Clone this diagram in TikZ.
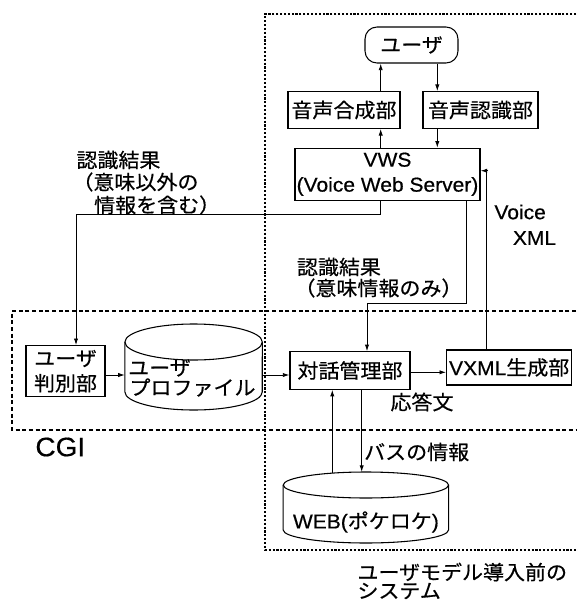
\documentclass[tikz,border=0pt]{standalone}
\usepackage{fontspec}
\setmainfont{Liberation Sans}[FakeStretch=1.05,FakeBold=0.5]
\newfontfamily\jp{Noto Sans CJK JP}[FakeStretch=1.05,FakeBold=0.5]
\newfontfamily\lat{Liberation Sans}[FakeStretch=1.05,FakeBold=0.5]
\usetikzlibrary{arrows.meta}
\begin{document}
\begin{tikzpicture}[x=0.75pt,y=-0.75pt,line width=0.7pt,
  arr/.style={-{Latex[length=5pt,width=3.2pt]}},
  box/.style={draw,rectangle,inner sep=0pt,align=center,line width=0.8pt,
    font=\fontsize{15}{18.75}\selectfont\jp},
  lbl/.style={inner sep=0pt,anchor=west,font=\fontsize{15}{17}\selectfont\jp},
  latlbl/.style={inner sep=0pt,anchor=west,font=\fontsize{15}{17}\selectfont\lat},
  sysline/.style={dash pattern=on 1.6pt off 1.3pt,line width=1.1pt},
  cgiline/.style={dash pattern=on 3pt off 2pt,line width=0.8pt}]
\useasboundingbox (0,0) rectangle (576,600);

% dashed frames
\draw[sysline] (576,14) -- (265,14) -- (265,550) -- (576,550);
\draw[cgiline] (576,311) -- (12,311) -- (12,430) -- (576,430);

% boxes
\node[box,rounded corners=9pt,minimum width=69.75pt,minimum height=27pt] (user) at (411.5,45) {ユーザ};
\node[box,minimum width=84pt,minimum height=27.5pt] (synth) at (344,110) {音声合成部};
\node[box,minimum width=86.25pt,minimum height=27.5pt] (recog) at (480.5,110) {音声認識部};
\node[box,minimum width=138.75pt,minimum height=38.8pt] (vws) at (387.5,174.2) {\lat VWS\\\lat (Voice Web Server)};
\node[box,minimum width=59.25pt,minimum height=38.25pt] (judge) at (65.5,371.2) {ユーザ\\判別部};
\node[box,minimum width=90pt,minimum height=28pt] (dlg) at (350,370.5) {対話管理部};
\node[box,minimum width=93.75pt,minimum height=26.25pt] (vxml) at (509.2,367.5) {{\lat VXML}生成部};

% cylinders
\draw[line width=0.8pt] (193.6,342) ellipse[x radius=51.5pt,y radius=13.5pt];
\draw[line width=0.8pt] (124.9,342) -- (124.9,392) arc[start angle=180,end angle=360,x radius=51.5pt,y radius=13.5pt] -- (262.3,342);
\node[lbl] (prof1) at (127.7,368) {ユーザ};
\node[lbl] (prof2) at (129,387.5) {プロファイル};

\draw[line width=0.8pt] (365.9,485) ellipse[x radius=62pt,y radius=9.75pt];
\draw[line width=0.8pt] (283.2,485) -- (283.2,530) arc[start angle=180,end angle=360,x radius=62pt,y radius=9.75pt] -- (448.6,485);
\node[inner sep=0pt,font=\fontsize{15}{17}\selectfont\lat] (web) at (365.9,522) {WEB(\jp ポケロケ\lat )};

% coordinates
\coordinate (xa) at (380.7,0);
\coordinate (xb) at (437.3,0);
\coordinate (c1) at (76,214);
\coordinate (c2) at (466.7,303);
\coordinate (c3) at (367,303);
\coordinate (c4) at (486.7,170.7);
\coordinate (c5) at (0,372.3);
\coordinate (profW) at (124.9,375);
\coordinate (profE) at (262.3,375);
\coordinate (wa) at (332.3,473);
\coordinate (wb) at (361.7,472);

% connectors
\draw[arr] (synth.north -| xa) -- (user.south -| xa);
\draw[arr] (vws.north -| xa) -- (synth.south -| xa);
\draw[arr] (user.south -| xb) -- (recog.north -| xb);
\draw[arr] (recog.south -| xb) -- (vws.north -| xb);
\draw[arr] (vws.south -| xa) |- (c1) -- (c1 |- judge.north);
\draw[arr] (vws.south -| c2) -- (c2) -- (c3) -- (c3 |- dlg.north);
\draw[arr] (vxml.north -| c4) |- (vws.east |- c4);
\draw[arr] (judge.east |- profW) -- (profW);
\draw[arr] (profE) -- (profE -| dlg.west);
\draw[arr] (dlg.east |- c5) -- (vxml.west |- c5);
\draw[arr] (wa) -- (wa |- dlg.south);
\draw[arr] (wb |- dlg.south) -- (wb);

% labels
\node[lbl] (l1) at (76,160) {認識結果};
\node[lbl] (l2) at (72,182) {（意味以外の};
\node[lbl] (l3) at (93.7,205) {情報を含む）};
\node[lbl] (l4) at (296.5,267) {認識結果};
\node[lbl] (l5) at (294,288) {（意味情報のみ）};
\node[latlbl] (l6) at (494,212) {Voice};
\node[latlbl] (l7) at (512.5,238) {XML};
\node[lbl] (l8) at (390,402) {応答文};
\node[lbl] (l9) at (363.7,452) {バスの情報};
\node[inner sep=0pt,anchor=west,font=\fontsize{20}{22}\selectfont\lat] (cgi) at (35,447) {CGI};
\node[lbl] (l10) at (357,572) {ユーザモデル導入前の};
\node[lbl] (l11) at (357,591) {システム};
\end{tikzpicture}
\end{document}
